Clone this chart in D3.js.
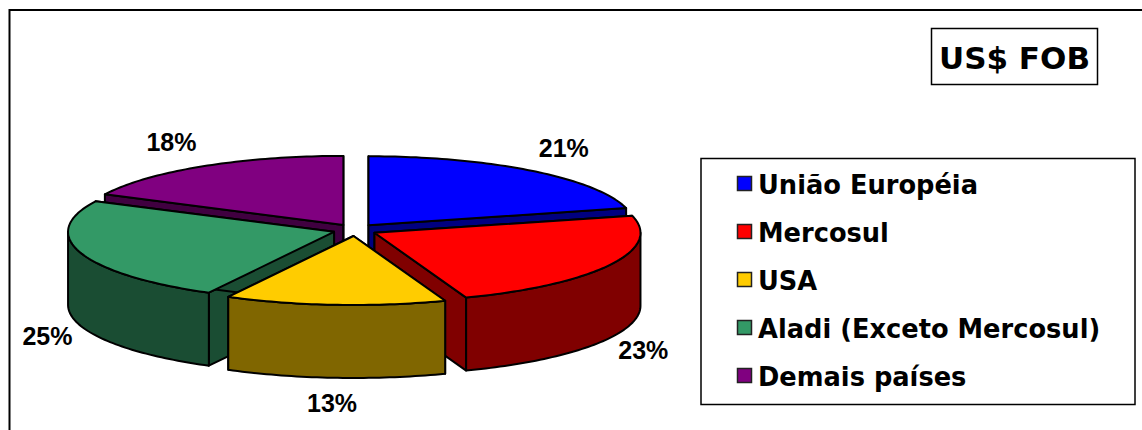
<!DOCTYPE html>
<html>
<head>
<meta charset="utf-8">
<script src="https://cdn.jsdelivr.net/npm/d3@7/dist/d3.min.js"></script>
<style>
  html, body { margin: 0; padding: 0; background: #fff; }
  svg { display: block; }
</style>
</head>
<body>
<svg></svg>
<script>
var width = 1142;
var height = 430;

var categories = ['União Européia', 'Mercosul', 'USA', 'Aladi (Exceto Mercosul)', 'Demais países'];
var values = [21.0, 23.4, 13.4, 24.5, 17.7];
var topColors = ['#0000ff', '#ff0000', '#ffcc00', '#339966', '#800080'];
var sideColors = ['#000080', '#800000', '#806600', '#1a4d33', '#400040'];
// nudges from the computed label spot, the back labels sit further out
var labelNudge = [[5, -14], [-6, 7], [0, 14], [9, 7], [-8, -14]];
// back to front
var drawOrder = [4, 0, 3, 1, 2];

var cx = 355, cy = 230, rx = 266, ry = 69, depth = 73;
var explodeX = 22, explodeY = 6;

var svg = d3.select('svg')
  .attr('width', width)
  .attr('height', height);

// unit circle to page pixels
var xScale = d3.scaleLinear().domain([-1, 1]).range([cx - rx, cx + rx]);
var yScale = d3.scaleLinear().domain([-1, 1]).range([cy - ry, cy + ry]);

var arcs = d3.pie().sort(null).value(function(d) { return d; })(values);

function offset(d) {
  var mid = (d.startAngle + d.endAngle) / 2;
  return [explodeX * Math.sin(mid), -explodeY * Math.cos(mid)];
}

function rim(d, a, z) {
  var o = offset(d);
  return [xScale(Math.sin(a)) + o[0], yScale(-Math.cos(a)) + o[1] + z];
}

function apex(d, z) {
  var o = offset(d);
  return [cx + o[0], cy + o[1] + z];
}

function sweep(d, a0, a1, z) {
  var n = Math.max(2, Math.ceil((a1 - a0) / 0.02));
  return d3.range(n + 1).map(function(i) {
    return rim(d, a0 + (a1 - a0) * i / n, z);
  });
}

var line = d3.line();

function closed(pts) { return line(pts) + 'Z'; }

var pieG = svg.append('g')
  .attr('stroke', '#000')
  .attr('stroke-width', 2)
  .attr('stroke-linejoin', 'round');

drawOrder.forEach(function(i) {
  var d = arcs[i];
  var g = pieG.append('g');

  // radial walls
  [d.startAngle, d.endAngle].forEach(function(a) {
    g.append('path')
      .attr('d', closed([apex(d, 0), rim(d, a, 0), rim(d, a, depth), apex(d, depth)]))
      .attr('fill', sideColors[i]);
  });

  // outer wall, only the part that faces the viewer
  var a0 = Math.max(d.startAngle, Math.PI / 2);
  var a1 = Math.min(d.endAngle, Math.PI * 3 / 2);
  if (a1 > a0) {
    g.append('path')
      .attr('d', closed(sweep(d, a0, a1, 0).concat(sweep(d, a0, a1, depth).reverse())))
      .attr('fill', sideColors[i]);
  }

  // top
  g.append('path')
    .attr('d', closed([apex(d, 0)].concat(sweep(d, d.startAngle, d.endAngle, 0))))
    .attr('fill', topColors[i]);
});

// percent labels
svg.append('g')
  .selectAll('text')
  .data(arcs)
  .enter().append('text')
    .attr('x', function(d, i) {
      var mid = (d.startAngle + d.endAngle) / 2;
      return cx + rx * 1.25 * Math.sin(mid) + labelNudge[i][0];
    })
    .attr('y', function(d, i) {
      var mid = (d.startAngle + d.endAngle) / 2;
      var c = Math.cos(mid);
      return cy - ry * 1.25 * c + (c < 0 ? depth : 0) + labelNudge[i][1];
    })
    .attr('dy', '0.35em')
    .attr('text-anchor', 'middle')
    .attr('font-family', '"Liberation Sans", Arial, sans-serif')
    .attr('font-weight', 'bold')
    .attr('font-size', 25)
    .attr('fill', '#000')
    .text(function(d) { return Math.round(d.value) + '%'; });

// outer frame, runs off the right and bottom of the picture
svg.append('rect')
  .attr('x', 9.5).attr('y', 10)
  .attr('width', width + 20).attr('height', height + 20)
  .attr('fill', 'none')
  .attr('stroke', '#000')
  .attr('stroke-width', 2);

// title box
svg.append('rect')
  .attr('x', 931.5).attr('y', 28.5)
  .attr('width', 166).attr('height', 56)
  .attr('fill', '#fff')
  .attr('stroke', '#000')
  .attr('stroke-width', 1.5);
svg.append('text')
  .attr('x', 1014.5).attr('y', 69)
  .attr('text-anchor', 'middle')
  .attr('font-family', '"DejaVu Sans", Verdana, sans-serif')
  .attr('font-weight', 'bold')
  .attr('font-size', 31)
  .text('US$ FOB');

// legend
svg.append('rect')
  .attr('x', 701).attr('y', 158.5)
  .attr('width', 434).attr('height', 246)
  .attr('fill', '#fff')
  .attr('stroke', '#000')
  .attr('stroke-width', 1.5);

var legendY = d3.scalePoint()
  .domain(categories)
  .range([184, 376]);

var legendItem = svg.append('g')
  .selectAll('g')
  .data(categories)
  .enter().append('g')
    .attr('transform', function(d) { return 'translate(0,' + legendY(d) + ')'; });

legendItem.append('rect')
  .attr('x', 737.5).attr('y', -7.5)
  .attr('width', 14).attr('height', 14)
  .attr('fill', function(d, i) { return topColors[i]; })
  .attr('stroke', '#222')
  .attr('stroke-width', 1.5);

legendItem.append('text')
  .attr('x', 758)
  .attr('y', 10)
  .attr('font-family', '"DejaVu Sans", Verdana, sans-serif')
  .attr('font-weight', 'bold')
  .attr('font-size', 25.7)
  .text(function(d) { return d; });
</script>
</body>
</html>
